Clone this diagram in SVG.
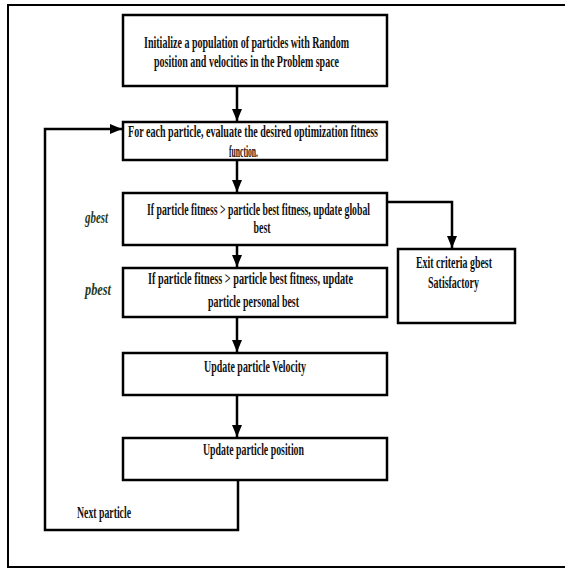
<svg xmlns="http://www.w3.org/2000/svg" width="565" height="569" viewBox="0 0 565 569">
<style>
.box{fill:#fff;stroke:#000;stroke-width:2.5}
.t{font-family:"Liberation Serif","Times New Roman",serif;font-weight:bold;font-size:17px;fill:#111;text-anchor:middle}
.n{text-anchor:start}
.lbl{font-family:"Liberation Serif","Times New Roman",serif;font-style:italic;font-weight:bold;font-size:17px;fill:#1f3a22}
.c{fill:none;stroke:#000;stroke-width:2.5}
</style>
<defs>
<marker id="ah" viewBox="0 0 12 10" refX="12" refY="5" markerWidth="12" markerHeight="10" markerUnits="userSpaceOnUse" orient="auto">
<path d="M0,0 L12,5 L0,10 Z" fill="#000"/>
</marker>
</defs>
<rect x="0" y="0" width="565" height="569" fill="#fff"/>
<rect x="8" y="5" width="570" height="562" fill="none" stroke="#000" stroke-width="2"/>
<g id="connectors">
<line class="c" x1="237" y1="86" x2="237" y2="121" marker-end="url(#ah)"/>
<line class="c" x1="237" y1="160" x2="237" y2="192" marker-end="url(#ah)"/>
<line class="c" x1="237" y1="245" x2="237" y2="267" marker-end="url(#ah)"/>
<line class="c" x1="237" y1="317" x2="237" y2="352" marker-end="url(#ah)"/>
<line class="c" x1="237" y1="395" x2="237" y2="437" stroke-width="1.5" marker-end="url(#ah)"/>
<polyline class="c" points="238,480 238,530 45,530 45,129 122,129" marker-end="url(#ah)"/>
<polyline class="c" points="387,202 452,202 452,248" marker-end="url(#ah)"/>
</g>
<g id="n1">
<rect class="box" x="123" y="15" width="264" height="71"/>
<text class="t" transform="translate(246.5,48) scale(0.55,1)" textLength="372.7" lengthAdjust="spacingAndGlyphs">Initialize a population of particles with Random</text>
<text class="t" transform="translate(246.5,67) scale(0.55,1)" textLength="336.4" lengthAdjust="spacingAndGlyphs">position and velocities in the Problem space</text>
</g>
<g id="n2">
<rect class="box" x="123" y="122" width="264" height="38"/>
<text class="t" transform="translate(253,137) scale(0.55,1)" textLength="454.5" lengthAdjust="spacingAndGlyphs">For each particle, evaluate the desired optimization fitness</text>
<text class="t" transform="translate(243.5,157) scale(0.55,1)" textLength="52.7" lengthAdjust="spacingAndGlyphs">function.</text>
</g>
<g id="n3">
<rect class="box" x="123" y="193" width="264" height="52"/>
<text class="t" transform="translate(258.5,215) scale(0.55,1)" textLength="405.5" lengthAdjust="spacingAndGlyphs">If particle fitness &gt; particle best fitness, update global</text>
<text class="t" transform="translate(262,233) scale(0.55,1)" textLength="30.9" lengthAdjust="spacingAndGlyphs">best</text>
</g>
<g id="n4">
<rect class="box" x="123" y="268" width="264" height="49"/>
<text class="t" transform="translate(250.5,284) scale(0.55,1)" textLength="372.7" lengthAdjust="spacingAndGlyphs">If particle fitness &gt; particle best fitness, update</text>
<text class="t" transform="translate(253.5,307) scale(0.55,1)" textLength="165.5" lengthAdjust="spacingAndGlyphs">particle personal best</text>
</g>
<g id="n5">
<rect class="box" x="123" y="353" width="264" height="42"/>
<text class="t" transform="translate(255,372) scale(0.55,1)" textLength="185.5" lengthAdjust="spacingAndGlyphs">Update particle Velocity</text>
</g>
<g id="n6">
<rect class="box" x="123" y="438" width="264" height="42"/>
<text class="t" transform="translate(253.5,455) scale(0.55,1)" textLength="183.6" lengthAdjust="spacingAndGlyphs">Update particle position</text>
</g>
<g id="n7">
<rect class="box" x="398" y="249" width="117" height="74"/>
<text class="t" transform="translate(454,268) scale(0.55,1)" textLength="138.2" lengthAdjust="spacingAndGlyphs">Exit criteria gbest</text>
<text class="t" transform="translate(453.5,288) scale(0.55,1)" textLength="92.7" lengthAdjust="spacingAndGlyphs">Satisfactory</text>
</g>
<g id="labels">
<text class="lbl" transform="translate(85,223) scale(0.55,1)" textLength="41.8" lengthAdjust="spacingAndGlyphs">gbest</text>
<text class="lbl" transform="translate(85,295) scale(0.55,1)" textLength="47.3" lengthAdjust="spacingAndGlyphs">pbest</text>
<text class="t n" transform="translate(77,518) scale(0.55,1)" textLength="98.2" lengthAdjust="spacingAndGlyphs">Next particle</text>
</g>
</svg>
